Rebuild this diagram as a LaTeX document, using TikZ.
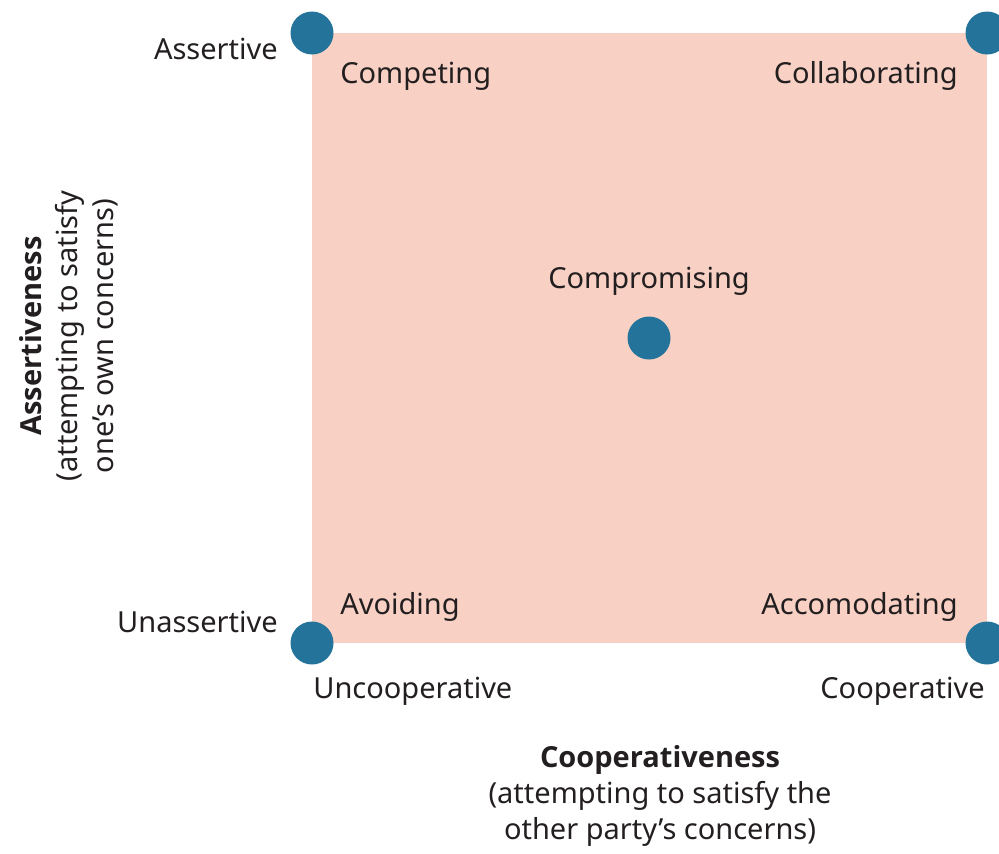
\documentclass[tikz,border=0pt]{standalone}
\usepackage{fontspec}
\setmainfont{Noto Sans}
\newfontfamily\headfont{Open Sans}
\usepackage{tikz}
\usetikzlibrary{positioning}
\definecolor{zonepink}{HTML}{F8D1C4}
\definecolor{dotblue}{HTML}{23739B}
\definecolor{inkdark}{HTML}{231F20}

\begin{document}
\begin{tikzpicture}[x=0.02cm, y=-0.02cm,
  dot/.style={circle, fill=dotblue, minimum size=0.86cm, inner sep=0pt},
  lbl/.style={inner sep=0pt, text=inkdark, font=\fontsize{16.5}{20.5}\selectfont},
  axis/.style={lbl, align=center}]
  \useasboundingbox (0,0) rectangle (999,853);
  \coordinate (tl) at (312,33);
  \coordinate (tr) at (987,33);
  \coordinate (bl) at (312,643);
  \coordinate (br) at (987,643);
  \fill[zonepink] (tl) rectangle (br);
  \node[dot] (assert) at (tl) {};
  \node[dot] (collab) at (tr) {};
  \node[dot] (avoid) at (bl) {};
  \node[dot] (accom) at (br) {};
  \node[dot] (comp) at (649,338) {};
  % style names in the square
  \node[lbl, anchor=base west] (competing) at (340,83) {Competing};
  \node[lbl, anchor=base east] (collaborating) at (958,83) {Collaborating};
  \node[lbl, anchor=base] (compromising) at (649,288) {Compromising};
  \node[lbl, anchor=base west] (avoiding) at (340,614) {Avoiding};
  \node[lbl, anchor=base east] (accomodating) at (958,614) {Accomodating};
  % axis ends
  \node[lbl, anchor=base east] (hi) at (278,59) {Assertive};
  \node[lbl, anchor=base east] (lo) at (278,632) {Unassertive};
  \node[lbl, anchor=base west] (unco) at (313,698) {Uncooperative};
  \node[lbl, anchor=base east] (coop) at (985,698) {Cooperative};
  % axis titles
  \node[axis] (xtitle) at (660,796)
    {{\headfont\bfseries Cooperativeness}\\(attempting to satisfy the\\other party’s concerns)};
  \node[axis, rotate=90] (ytitle) at (69,336)
    {{\headfont\bfseries Assertiveness}\\(attempting to satisfy\\one’s own concerns)};
\end{tikzpicture}
\end{document}
